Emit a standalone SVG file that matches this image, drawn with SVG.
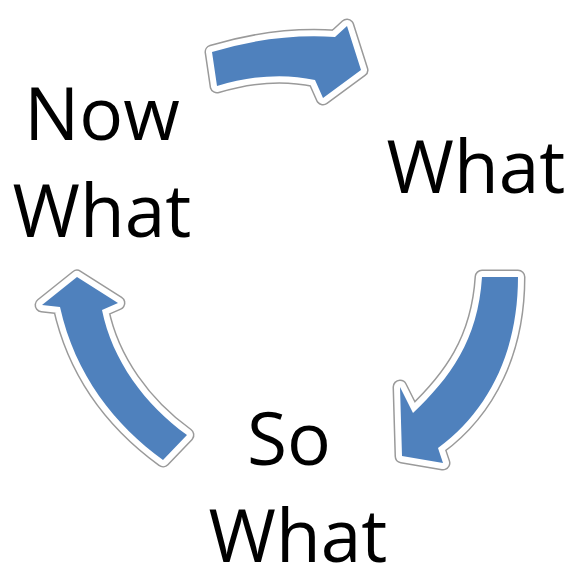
<svg xmlns="http://www.w3.org/2000/svg" xmlns:xlink="http://www.w3.org/1999/xlink" width="571" height="565" viewBox="0 0 571 565">
<style>
.lbl{font-family:"Open Sans","Noto Sans","Liberation Sans",sans-serif;font-size:73px;fill:#000;text-anchor:middle}
.edge{fill:none;stroke:#9a9a9a;stroke-width:15;stroke-linejoin:round}
.ring{fill:#fff;stroke:#fff;stroke-width:12;stroke-linejoin:round}
.body{fill:#4f81bd;stroke:none}
</style>
<defs>
<path id="a1" d="M212,52 Q275,33 335,37 L347,26 L361,70 L323,98 L315,80 Q270,70 217,86 Z"/>
<path id="a2" d="M482,277 L518,277 C518,350 490,410 438,448 L443,463 L402,456 L400,387 L413,413 C450,378 478,340 482,277 Z"/>
<path id="a3" d="M77,277 L118,303 L102,310 C112,360 145,405 187,435 L163,460 C115,425 75,375 60,307 L42,305 Z"/>
</defs>
<rect width="571" height="565" fill="#fff"/>
<g id="connectors">
<g id="arrow-what-to-sowhat-top"><use xlink:href="#a1" class="edge"/><use xlink:href="#a1" class="ring"/><use xlink:href="#a1" class="body"/></g>
<g id="arrow-what-to-sowhat"><use xlink:href="#a2" class="edge"/><use xlink:href="#a2" class="ring"/><use xlink:href="#a2" class="body"/></g>
<g id="arrow-sowhat-to-nowwhat"><use xlink:href="#a3" class="edge"/><use xlink:href="#a3" class="ring"/><use xlink:href="#a3" class="body"/></g>
</g>
<g id="node-now-what"><text class="lbl" x="102" y="140">Now</text><text class="lbl" x="102" y="237">What</text></g>
<g id="node-what"><text class="lbl" x="476" y="193">What</text></g>
<g id="node-so-what"><text class="lbl" x="289" y="465">So</text><text class="lbl" x="298" y="562">What</text></g>
</svg>
